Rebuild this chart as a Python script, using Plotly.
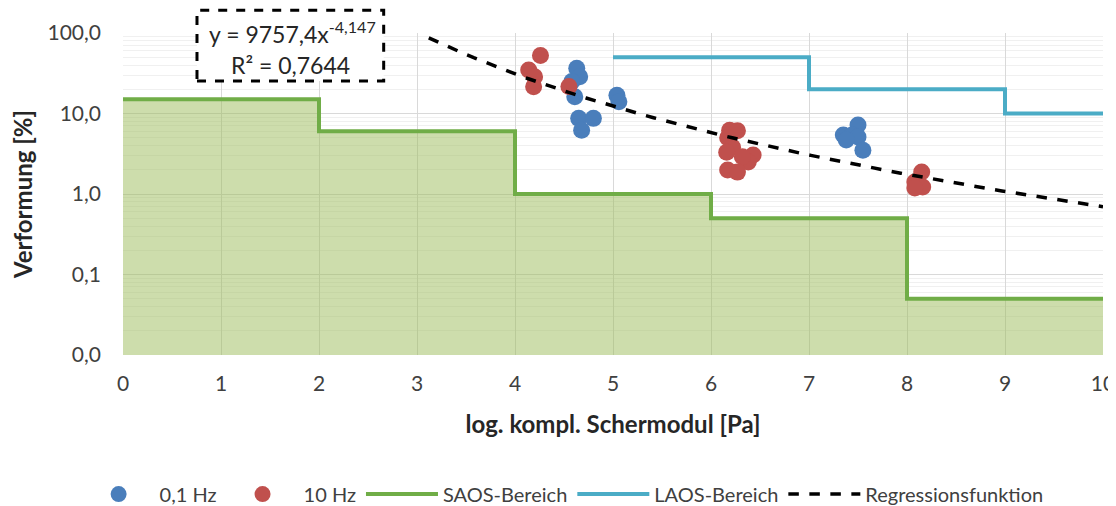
import plotly.graph_objects as go

# ---- data ----
x_01hz = [4.63, 4.66, 4.58, 4.61, 4.65, 4.80, 4.68, 5.04, 5.06,
          7.35, 7.50, 7.44, 7.50, 7.55, 7.38]
y_01hz = [36.4, 28.6, 24.9, 16.1, 8.7, 8.7, 6.2, 16.9, 14.0,
          5.4, 7.2, 5.4, 5.1, 3.5, 4.7]

x_10hz = [4.26, 4.14, 4.20, 4.19, 4.55,
          6.19, 6.27, 6.17, 6.22, 6.16, 6.43, 6.38, 6.32, 6.17, 6.27,
          8.15, 8.08, 8.16, 8.08]
y_10hz = [52.4, 34.7, 28.6, 21.5, 21.6,
          6.2, 6.1, 5.0, 3.8, 3.3, 3.05, 2.5, 2.9, 1.99, 1.87,
          1.88, 1.41, 1.22, 1.19]

saos_x = [0, 2, 4, 6, 8, 10]
saos_y = [15, 6, 1, 0.5, 0.05, 0.05]

laos_x = [5, 7, 9, 10]
laos_y = [50, 20, 10, 10]

reg_a = 9757.4
reg_b = -4.147
reg_x = [3.12 + i * (10 - 3.12) / 60 for i in range(61)]
reg_y = [reg_a * xv ** reg_b for xv in reg_x]

y_floor = 0.01
y_ticks = [0.01, 0.1, 1, 10, 100]
y_ticktext = ["0,0", "0,1", "1,0", "10,0", "100,0"]
x_ticks = list(range(0, 11))

FONT = "Lato"
GREEN = "#70ad47"
TEAL = "#4bacc6"
BLUE = "#4a7ebb"
RED = "#c0504d"

fig = go.Figure()

# fill under SAOS step
fill_x = []
fill_y = []
for i in range(len(saos_x) - 1):
    fill_x += [saos_x[i], saos_x[i + 1]]
    fill_y += [saos_y[i], saos_y[i]]
fill_x += [saos_x[-1], saos_x[0]]
fill_y += [y_floor, y_floor]
fig.add_trace(go.Scatter(x=fill_x, y=fill_y, mode="lines", fill="toself",
                         fillcolor="rgba(155,187,89,0.5)", line=dict(width=0),
                         showlegend=False, hoverinfo="skip"))

fig.add_trace(go.Scatter(x=x_01hz, y=y_01hz, mode="markers", name="0,1 Hz",
                         marker=dict(color=BLUE, size=17)))
fig.add_trace(go.Scatter(x=x_10hz, y=y_10hz, mode="markers", name="10 Hz",
                         marker=dict(color=RED, size=17)))
fig.add_trace(go.Scatter(x=saos_x, y=saos_y, mode="lines", name="SAOS-Bereich",
                         line=dict(color=GREEN, width=4, shape="hv")))
fig.add_trace(go.Scatter(x=laos_x, y=laos_y, mode="lines", name="LAOS-Bereich",
                         line=dict(color=TEAL, width=4, shape="hv")))
fig.add_trace(go.Scatter(x=reg_x, y=reg_y, mode="lines", name="Regressionsfunktion",
                         line=dict(color="black", width=3.5, dash="dash")))

minor_vals = []
for dec in [0.01, 0.1, 1, 10]:
    minor_vals += [dec * k for k in range(2, 10)]

fig.update_xaxes(range=[0, 10], tickvals=x_ticks, showgrid=True,
                 gridcolor="#d9d9d9", gridwidth=1, zeroline=False,
                 showline=False, ticks="", automargin=False,
                 ticklabelstandoff=14, ticklabeloverflow="allow",
                 tickfont=dict(family=FONT, size=21, color="#404040"),
                 title=dict(text="<b>log. kompl. Schermodul [Pa]</b>",
                            font=dict(family=FONT, size=24, color="#262626"),
                            standoff=22))
fig.update_yaxes(type="log", range=[-2, 2], tickvals=y_ticks, ticktext=y_ticktext,
                 showgrid=True, gridcolor="#d9d9d9", gridwidth=1, zeroline=False,
                 showline=False, ticks="", automargin=False,
                 ticklabelstandoff=21,
                 minor=dict(tickvals=minor_vals, showgrid=True,
                            gridcolor="#f0f0f0", gridwidth=1, ticks=""),
                 tickfont=dict(family=FONT, size=21, color="#404040"),
                 title=dict(text="<b>Verformung [%]</b>",
                            font=dict(family=FONT, size=24, color="#262626"),
                            standoff=14))

# equation box
fig.add_shape(type="rect", xref="paper", yref="paper",
              x0=0.0755, x1=0.266, y0=0.851, y1=1.071,
              line=dict(color="black", width=3, dash="dash"), fillcolor="white")
fig.add_annotation(xref="paper", yref="paper", x=0.0857, y=1.003,
                   xanchor="left", yanchor="middle", showarrow=False,
                   text="y = 9757,4x<sup>-4,147</sup>",
                   font=dict(family=FONT, size=23, color="#262626"))
fig.add_annotation(xref="paper", yref="paper", x=0.171, y=0.900,
                   xanchor="center", yanchor="middle", showarrow=False,
                   text="R² = 0,7644",
                   font=dict(family=FONT, size=23, color="#262626"))

# page body adds an 8px offset; figure sized so the plot lands where the reference has it
fig.update_layout(
    width=1108, height=498,
    margin=dict(l=115, r=13, t=25, b=151, autoexpand=False),
    paper_bgcolor="white", plot_bgcolor="white",
    font=dict(family=FONT, color="#404040"),
    legend=dict(orientation="h", xref="container",
                x=0.501, y=-0.432, xanchor="center", yanchor="middle",
                font=dict(family=FONT, size=20, color="#404040"),
                itemwidth=72),
)

fig.write_html("out.html")
